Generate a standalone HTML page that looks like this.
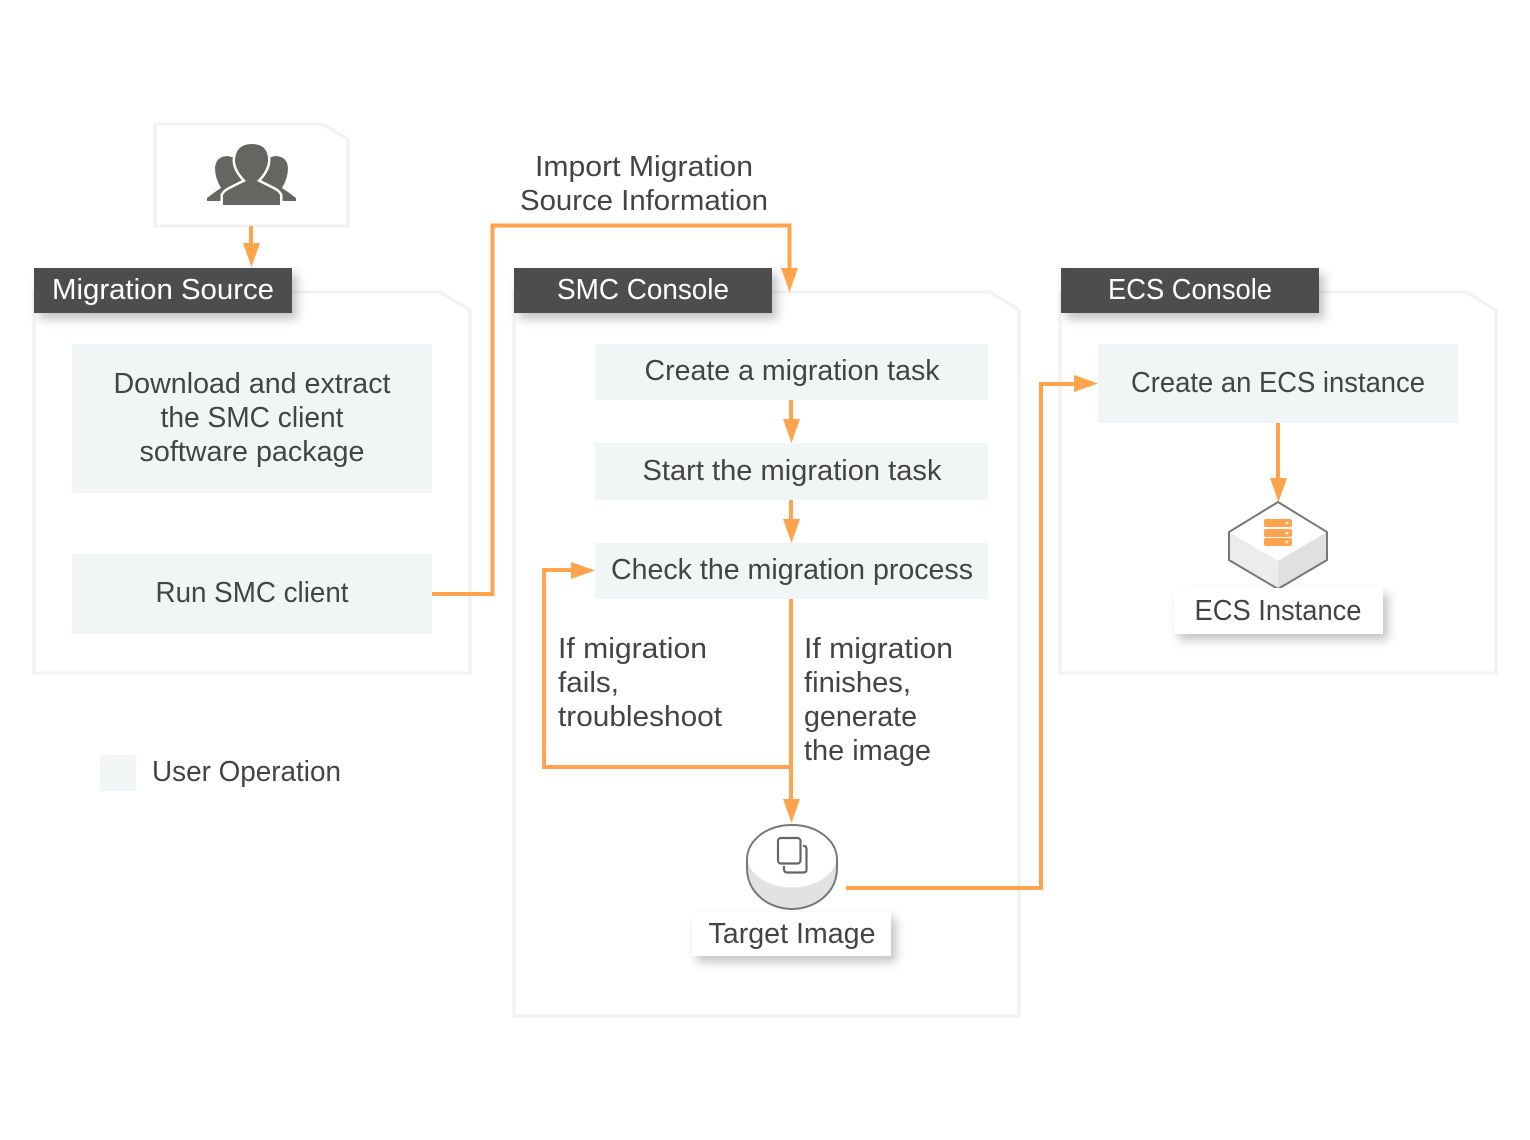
<!DOCTYPE html>
<html><head><meta charset="utf-8"><style>html,body{margin:0;padding:0;background:#fff}svg{display:block}text{font-family:"Liberation Sans",sans-serif;font-size:29px;fill:#444;text-anchor:middle}.l{text-anchor:start}.w{fill:#fff}</style></head><body>
<svg width="1530" height="1140" viewBox="0 0 1530 1140" xmlns="http://www.w3.org/2000/svg">
<defs>
<filter id="s" x="-20%" y="-40%" width="140%" height="200%"><feDropShadow dx="5" dy="6" stdDeviation="5" flood-color="#000" flood-opacity="0.24"/></filter>
<filter id="p" x="-2%" y="-2%" width="104%" height="104%"><feGaussianBlur stdDeviation="0.6"/></filter>
</defs>
<g fill="#fff" stroke="#f0f1f1" stroke-width="3" filter="url(#p)">
<path d="M155 124H322L348 139V226H155Z"/>
<path d="M34 292H440L470 310V673H34Z"/>
<path d="M514 292H990L1019 310V1016H514Z"/>
<path d="M1060 292H1466L1496 310V673H1060Z"/>
</g>
<g fill="#f1f5f6">
<rect x="72" y="344" width="360" height="149"/>
<rect x="72" y="554" width="360" height="80"/>
<rect x="595" y="344" width="393" height="56"/>
<rect x="595" y="443" width="393" height="57"/>
<rect x="595" y="543" width="393" height="56"/>
<rect x="1098" y="344" width="360" height="79"/>
<rect x="100" y="755" width="36" height="36"/>
</g>
<g fill="#4d4d4d" filter="url(#s)">
<rect x="34" y="268" width="258" height="45"/>
<rect x="514" y="268" width="258" height="45"/>
<rect x="1061" y="268" width="258" height="45"/>
</g>
<g fill="none" stroke="#ffa34d" stroke-width="4">
<path d="M251 226V246"/>
<path d="M432 594H492.500V225.500H789.500V268"/>
<path d="M791 400V424"/>
<path d="M791 500V523"/>
<path d="M791 599V804"/>
<path d="M791 767H544V570H574"/>
<path d="M846 888H1041V384H1076"/>
<path d="M1278 423V482"/>
</g>
<g fill="#ffa34d">
<path d="M243 243H260L251.500 267Z"/>
<path d="M781 268H798L789.500 292Z"/>
<path d="M783 419H800L791.500 443Z"/>
<path d="M783 519H800L791.500 543Z"/>
<path d="M571 562V579L595 570.500Z"/>
<path d="M783 799H800L791.500 823Z"/>
<path d="M1074 375V392L1098 383.500Z"/>
<path d="M1270 478H1287L1278.500 502Z"/>
</g>
<!-- users icon -->
<g fill="#666562">
<path d="M207 201V198L215 192L221 188Q215 178 215 168Q216 156 228 156L242 160V195L219 201Z"/>
<path d="M296 201V198L288 192L282 188Q288 178 288 168Q287 156 275 156L261 160V195L284 201Z"/>
<path d="M223 205V195Q225 191 232 188L246 181Q235 170 235 160Q236 144 252 144Q268 144 268 160Q268 170 257 181L271 188Q278 191 280 195V205Z" stroke="#fff" stroke-width="5" paint-order="stroke"/>
</g>
<!-- ECS cube -->
<path d="M1278 502L1327 532V560L1278 589L1229 560V532Z" fill="#ececec"/>
<path d="M1278 502L1327 532L1278 561L1229 532Z" fill="#fff"/>
<path d="M1278 561L1327 532V560L1278 589Z" fill="#e0e0e0"/>
<path d="M1278 502L1327 532V560L1278 589L1229 560V532Z" fill="none" stroke="#777" stroke-width="2"/>
<g fill="#ffa34d">
<rect x="1264" y="519" width="28" height="8" rx="2"/>
<rect x="1264" y="529" width="28" height="8" rx="2"/>
<rect x="1264" y="538" width="28" height="8" rx="2"/>
</g>
<g fill="#fff"><circle cx="1287" cy="523" r="1.300"/><circle cx="1287" cy="533" r="1.300"/><circle cx="1287" cy="542" r="1.300"/></g>
<rect x="1174" y="588" width="209" height="46" fill="#fff" filter="url(#s)"/>
<!-- Disk -->
<path d="M747 860C747 840 767 825 792 825C817 825 837 840 837 860V868C837 893 815 909 792 909C769 909 747 893 747 868Z" fill="#e2e2e2"/>
<ellipse cx="792" cy="856" rx="45" ry="31.500" fill="#fff"/>
<path d="M747 860C747 840 767 825 792 825C817 825 837 840 837 860V868C837 893 815 909 792 909C769 909 747 893 747 868Z" fill="none" stroke="#777" stroke-width="2"/>
<rect x="778" y="838" width="22.500" height="25.500" rx="3" fill="#fff" stroke="#666" stroke-width="2.200"/>
<path d="M803 846H804Q806.500 846 806.500 849V870Q806.500 872.500 803 872.500H787Q784 872.500 784 869V866" fill="none" stroke="#666" stroke-width="2.200"/>
<rect x="692" y="912" width="199" height="44" fill="#fff" filter="url(#s)"/>
<!-- Text -->
<text class="w" x="163" y="299" textLength="222" lengthAdjust="spacingAndGlyphs">Migration Source</text>
<text class="w" x="643" y="299" textLength="172" lengthAdjust="spacingAndGlyphs">SMC Console</text>
<text class="w" x="1190" y="299" textLength="164" lengthAdjust="spacingAndGlyphs">ECS Console</text>
<text x="644" y="176" textLength="218" lengthAdjust="spacingAndGlyphs">Import Migration</text>
<text x="644" y="210" textLength="248" lengthAdjust="spacingAndGlyphs">Source Information</text>
<text x="252" y="393" textLength="277" lengthAdjust="spacingAndGlyphs">Download and extract</text>
<text x="252" y="427" textLength="183" lengthAdjust="spacingAndGlyphs">the SMC client</text>
<text x="252" y="461" textLength="225" lengthAdjust="spacingAndGlyphs">software package</text>
<text x="252" y="602" textLength="193" lengthAdjust="spacingAndGlyphs">Run SMC client</text>
<text x="792" y="380" textLength="295" lengthAdjust="spacingAndGlyphs">Create a migration task</text>
<text x="792" y="480" textLength="299" lengthAdjust="spacingAndGlyphs">Start the migration task</text>
<text x="792" y="579" textLength="362" lengthAdjust="spacingAndGlyphs">Check the migration process</text>
<text x="1278" y="392" textLength="294" lengthAdjust="spacingAndGlyphs">Create an ECS instance</text>
<text class="l" x="152" y="781" textLength="189" lengthAdjust="spacingAndGlyphs">User Operation</text>
<text class="l" x="558" y="658" textLength="149" lengthAdjust="spacingAndGlyphs">If migration</text>
<text class="l" x="558" y="692" textLength="61" lengthAdjust="spacingAndGlyphs">fails,</text>
<text class="l" x="558" y="726" textLength="164" lengthAdjust="spacingAndGlyphs">troubleshoot</text>
<text class="l" x="804" y="658" textLength="149" lengthAdjust="spacingAndGlyphs">If migration</text>
<text class="l" x="804" y="692" textLength="107" lengthAdjust="spacingAndGlyphs">finishes,</text>
<text class="l" x="804" y="726" textLength="113" lengthAdjust="spacingAndGlyphs">generate</text>
<text class="l" x="804" y="760" textLength="127" lengthAdjust="spacingAndGlyphs">the image</text>
<text x="792" y="943" textLength="167" lengthAdjust="spacingAndGlyphs">Target Image</text>
<text x="1278" y="620" textLength="167" lengthAdjust="spacingAndGlyphs">ECS Instance</text>
</svg>
</body></html>
